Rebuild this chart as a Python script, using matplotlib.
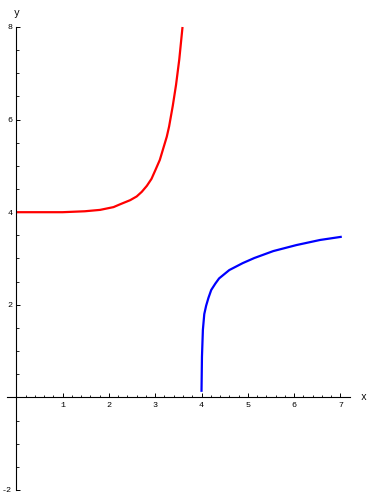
import numpy as np
import matplotlib
matplotlib.use("Agg")
import matplotlib.pyplot as plt
from matplotlib.ticker import FixedLocator

plt.rcParams['font.family'] = ['Liberation Mono', 'DejaVu Sans Mono']

# values
red_x = [0.0, 0.5, 1.0, 1.48, 1.81, 2.10, 2.24, 2.46, 2.60, 2.71, 2.82, 2.92, 3.00, 3.10, 3.25, 3.30, 3.38, 3.45, 3.52, 3.59]
red_y = [4.0, 4.0, 4.0, 4.02, 4.05, 4.11, 4.17, 4.26, 4.34, 4.44, 4.57, 4.72, 4.90, 5.13, 5.63, 5.85, 6.30, 6.75, 7.30, 8.0]

blue_x = [4.00, 4.01, 4.03, 4.06, 4.10, 4.15, 4.21, 4.30, 4.38, 4.60, 4.89, 5.14, 5.55, 6.05, 6.56, 7.03]
blue_y = [0.12, 0.88, 1.46, 1.80, 1.98, 2.15, 2.32, 2.46, 2.57, 2.75, 2.90, 3.01, 3.16, 3.29, 3.40, 3.47]

x_ticks = [1, 2, 3, 4, 5, 6, 7]
y_ticks = [-2, 2, 4, 6, 8]
x_span = (-0.2, 7.2)
y_span = (-2, 8)

fig = plt.figure(figsize=(3.68, 5.0), dpi=100)
ax = fig.add_axes([0, 0, 1, 1])
ax.set_xlim(-0.352, 7.596)
ax.set_ylim(-2.216, 8.583)

ax.plot(red_x, red_y, color="#ff0000", lw=1.6, solid_capstyle="butt")
ax.plot(blue_x, blue_y, color="#0000ff", lw=1.6, solid_capstyle="butt")

# mathematica style axes crossing at the origin
for side in ["top", "right"]:
    ax.spines[side].set_visible(False)
ax.spines["left"].set_position(("data", 0))
ax.spines["bottom"].set_position(("data", 0))
ax.spines["left"].set_bounds(*y_span)
ax.spines["bottom"].set_bounds(*x_span)
for side in ["left", "bottom"]:
    ax.spines[side].set_linewidth(0.8)

ax.xaxis.set_major_locator(FixedLocator(x_ticks))
ax.yaxis.set_major_locator(FixedLocator(y_ticks))
ax.xaxis.set_minor_locator(FixedLocator(np.arange(0.2, 7.01, 0.2)))
ax.yaxis.set_minor_locator(FixedLocator(np.arange(-1.5, 7.6, 0.5)))
ax.set_xticklabels([str(t) for t in x_ticks])
ax.set_yticklabels([str(t) for t in y_ticks])
ax.tick_params(which="major", direction="in", length=3, width=0.7, labelsize=6, pad=3)
ax.tick_params(which="minor", direction="in", length=1.8, width=0.6)

ax.text(x_span[1] + 0.3, 0, "x", fontsize=7, ha="center", va="center")
ax.text(0, y_span[1] + 0.3, "y", fontsize=7, ha="center", va="center")

fig.savefig("out.png", dpi=100)
